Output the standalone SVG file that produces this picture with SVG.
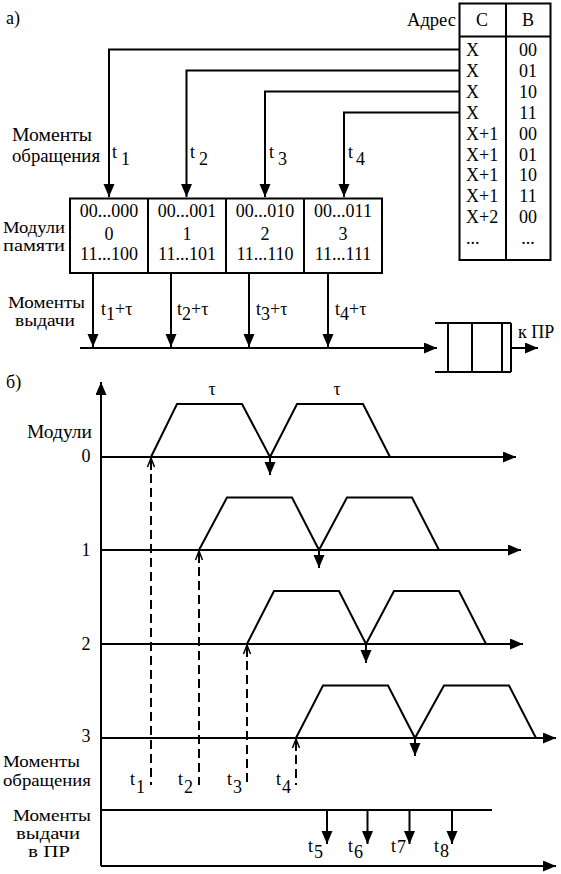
<svg xmlns="http://www.w3.org/2000/svg" width="561" height="874" viewBox="0 0 561 874" font-family="'Liberation Serif', 'DejaVu Serif', serif">
<style>
text{font-family:'Liberation Serif','DejaVu Serif','Times New Roman',serif;font-size:18px;fill:#000}
.m{text-anchor:middle}
.s{font-size:16px}
.ln{stroke:#000;stroke-width:2;fill:none}
.ds{stroke:#000;stroke-width:2;fill:none;stroke-dasharray:9 5}
.ch{stroke:#000;stroke-width:1.5;fill:none}
</style>
<defs>
<marker id="ah" markerUnits="userSpaceOnUse" markerWidth="14" markerHeight="12" refX="13" refY="5.5" orient="auto">
<path d="M0,0 L13,5.5 L0,11 z" fill="#000"/>
</marker>
</defs>
<rect width="561" height="874" fill="#fff"/>

<text x="6" y="24">а)</text>
<text x="6" y="388">б)</text>

<g id="address-table">
<rect class="ln" x="459.5" y="3.5" width="91" height="256.5"/>
<line class="ln" x1="506" y1="3.5" x2="506" y2="260"/>
<line class="ln" x1="459.5" y1="36.5" x2="550.5" y2="36.5"/>
<text x="407" y="26" textLength="49" lengthAdjust="spacingAndGlyphs">Адрес</text>
<text class="m" x="482" y="26">С</text>
<text class="m" x="528" y="26">В</text>
<text x="466" y="56">X</text><text class="m" x="528" y="56">00</text>
<text x="466" y="77">X</text><text class="m" x="528" y="77">01</text>
<text x="466" y="98">X</text><text class="m" x="528" y="98">10</text>
<text x="466" y="118.5">X</text><text class="m" x="528" y="118.5">11</text>
<text x="466" y="139.5">X+1</text><text class="m" x="528" y="139.5">00</text>
<text x="466" y="160.5">X+1</text><text class="m" x="528" y="160.5">01</text>
<text x="466" y="181">X+1</text><text class="m" x="528" y="181">10</text>
<text x="466" y="202">X+1</text><text class="m" x="528" y="202">11</text>
<text x="466" y="222.5">X+2</text><text class="m" x="528" y="222.5">00</text>
<text x="466" y="244">...</text><text class="m" x="528" y="244">...</text>
</g>

<g id="labels-a">
<text x="12" y="141" textLength="80" lengthAdjust="spacingAndGlyphs">Моменты</text>
<text x="12" y="161.5" textLength="88" lengthAdjust="spacingAndGlyphs">обращения</text>
<text class="s" x="3" y="233" textLength="62" lengthAdjust="spacingAndGlyphs">Модули</text>
<text class="s" x="3" y="251" textLength="62" lengthAdjust="spacingAndGlyphs">памяти</text>
<text class="s" x="8" y="308" textLength="77" lengthAdjust="spacingAndGlyphs">Моменты</text>
<text class="s" x="15" y="326" textLength="60" lengthAdjust="spacingAndGlyphs">выдачи</text>
<text x="112" y="158">t<tspan dx="4" dy="7">1</tspan></text>
<text x="190" y="158">t<tspan dx="4" dy="7">2</tspan></text>
<text x="269" y="158">t<tspan dx="4" dy="7">3</tspan></text>
<text x="348" y="158">t<tspan dx="3" dy="7">4</tspan></text>
<text x="101" y="315">t<tspan dy="5">1</tspan><tspan dy="-5">+τ</tspan></text>
<text x="177" y="315">t<tspan dy="5">2</tspan><tspan dy="-5">+τ</tspan></text>
<text x="256" y="315">t<tspan dy="5">3</tspan><tspan dy="-5">+τ</tspan></text>
<text x="335" y="315">t<tspan dy="5">4</tspan><tspan dy="-5">+τ</tspan></text>
</g>

<g id="memory-modules">
<rect class="ln" x="70" y="198.5" width="312" height="74.5"/>
<line class="ln" x1="148" y1="198.5" x2="148" y2="273"/>
<line class="ln" x1="226" y1="198.5" x2="226" y2="273"/>
<line class="ln" x1="304" y1="198.5" x2="304" y2="273"/>
<g id="module-0"><text class="m" x="109" y="217">00...000</text><text class="m" x="109" y="240">0</text><text class="m" x="109" y="260">11...100</text></g>
<g id="module-1"><text class="m" x="187" y="217">00...001</text><text class="m" x="187" y="240">1</text><text class="m" x="187" y="260">11...101</text></g>
<g id="module-2"><text class="m" x="265" y="217">00...010</text><text class="m" x="265" y="240">2</text><text class="m" x="265" y="260">11...110</text></g>
<g id="module-3"><text class="m" x="343" y="217">00...011</text><text class="m" x="343" y="240">3</text><text class="m" x="343" y="260">11...111</text></g>
</g>

<g id="queue">
<line class="ln" x1="435" y1="323" x2="511" y2="323"/>
<line class="ln" x1="435" y1="372" x2="511" y2="372"/>
<line class="ln" x1="448" y1="323" x2="448" y2="372"/>
<line class="ln" x1="472" y1="323" x2="472" y2="372"/>
<line class="ln" x1="502" y1="323" x2="502" y2="372"/>
<line class="ln" x1="511" y1="323" x2="511" y2="372"/>
<text x="518" y="338">к ПР</text>
</g>

<g id="connectors-a">
<path class="ln" d="M459,49.5 H109 V197" marker-end="url(#ah)"/>
<path class="ln" d="M459,70.5 H186.5 V197" marker-end="url(#ah)"/>
<path class="ln" d="M459,91.5 H265 V197" marker-end="url(#ah)"/>
<path class="ln" d="M459,112.5 H344 V197" marker-end="url(#ah)"/>
<line class="ln" x1="93" y1="273" x2="93" y2="347" marker-end="url(#ah)"/>
<line class="ln" x1="171" y1="273" x2="171" y2="347" marker-end="url(#ah)"/>
<line class="ln" x1="249" y1="273" x2="249" y2="347" marker-end="url(#ah)"/>
<line class="ln" x1="328" y1="273" x2="328" y2="347" marker-end="url(#ah)"/>
<line class="ln" x1="80" y1="348" x2="437" y2="348" marker-end="url(#ah)"/>
<line class="ln" x1="511" y1="348" x2="538" y2="348" marker-end="url(#ah)"/>
</g>

<g id="timing-labels">
<text x="27" y="437.5" textLength="65" lengthAdjust="spacingAndGlyphs">Модули</text>
<text class="m" x="86" y="462">0</text>
<text class="m" x="86" y="556">1</text>
<text class="m" x="86" y="650">2</text>
<text class="m" x="86" y="742">3</text>
<text class="m" x="212" y="395" font-size="20">τ</text>
<text class="m" x="337" y="395" font-size="20">τ</text>
<text class="s" x="3" y="767" textLength="77" lengthAdjust="spacingAndGlyphs">Моменты</text>
<text class="s" x="3" y="786" textLength="88" lengthAdjust="spacingAndGlyphs">обращения</text>
<text class="s" x="13" y="821" textLength="78" lengthAdjust="spacingAndGlyphs">Моменты</text>
<text class="s" x="16" y="839" textLength="64" lengthAdjust="spacingAndGlyphs">выдачи</text>
<text class="s" x="28" y="857" textLength="42" lengthAdjust="spacingAndGlyphs">в ПР</text>
<text x="130" y="785">t<tspan dx="1" dy="8">1</tspan></text>
<text x="178" y="785">t<tspan dx="1" dy="8">2</tspan></text>
<text x="227" y="785">t<tspan dx="1" dy="8">3</tspan></text>
<text x="276" y="785">t<tspan dx="1" dy="8">4</tspan></text>
<text x="308" y="852">t<tspan dx="1" dy="6">5</tspan></text>
<text x="348" y="852">t<tspan dx="1" dy="6">6</tspan></text>
<text x="391" y="852">t<tspan dx="1" dy="1">7</tspan></text>
<text x="434" y="852">t<tspan dx="1" dy="5">8</tspan></text>
</g>

<g id="timing-axes">
<line class="ln" x1="101" y1="866" x2="101" y2="382" marker-end="url(#ah)"/>
<line class="ln" x1="101" y1="866" x2="556" y2="866" marker-end="url(#ah)"/>
<line class="ln" x1="101" y1="810" x2="492" y2="810"/>
<line class="ln" x1="101" y1="457" x2="516" y2="457" marker-end="url(#ah)"/>
<line class="ln" x1="101" y1="550" x2="521" y2="550" marker-end="url(#ah)"/>
<line class="ln" x1="101" y1="644" x2="523" y2="644" marker-end="url(#ah)"/>
<line class="ln" x1="101" y1="738" x2="556" y2="738" marker-end="url(#ah)"/>
</g>

<g id="module-0-timing"><polyline class="ln" points="151,457 177,404 242,404 270,457 297,404 363,404 390,457"/></g>
<g id="module-1-timing"><polyline class="ln" points="199,550 227,497.5 292,497.5 319,550 347,497.5 412,497.5 439,550"/></g>
<g id="module-2-timing"><polyline class="ln" points="247,644 274,591 339,591 366,644 394,591 459,591 486,644"/></g>
<g id="module-3-timing"><polyline class="ln" points="296,738 323,685.5 388,685.5 415,738 444,685.5 509,685.5 536,738"/></g>

<g id="connectors-b">
<line class="ln" x1="151" y1="458" x2="151" y2="470"/><polyline class="ch" points="147.5,467 151,458 154.5,467"/><line class="ds" x1="151" y1="474" x2="151" y2="785"/>
<line class="ln" x1="199" y1="551" x2="199" y2="563"/><polyline class="ch" points="195.5,560 199,551 202.5,560"/><line class="ds" x1="199" y1="567" x2="199" y2="785"/>
<line class="ln" x1="247" y1="645" x2="247" y2="657"/><polyline class="ch" points="243.5,654 247,645 250.5,654"/><line class="ds" x1="247" y1="661" x2="247" y2="785"/>
<line class="ln" x1="296" y1="739" x2="296" y2="751"/><polyline class="ch" points="292.5,748 296,739 299.5,748"/><line class="ds" x1="296" y1="755" x2="296" y2="785"/>
<line class="ln" x1="270" y1="457" x2="270" y2="475" marker-end="url(#ah)"/>
<line class="ln" x1="319" y1="550" x2="319" y2="568" marker-end="url(#ah)"/>
<line class="ln" x1="366" y1="644" x2="366" y2="663" marker-end="url(#ah)"/>
<line class="ln" x1="415" y1="738" x2="415" y2="756" marker-end="url(#ah)"/>
<line class="ln" x1="327" y1="810" x2="327" y2="844" marker-end="url(#ah)"/>
<line class="ln" x1="367.5" y1="810" x2="367.5" y2="844" marker-end="url(#ah)"/>
<line class="ln" x1="409.5" y1="810" x2="409.5" y2="844" marker-end="url(#ah)"/>
<line class="ln" x1="452" y1="810" x2="452" y2="844" marker-end="url(#ah)"/>
</g>
</svg>
